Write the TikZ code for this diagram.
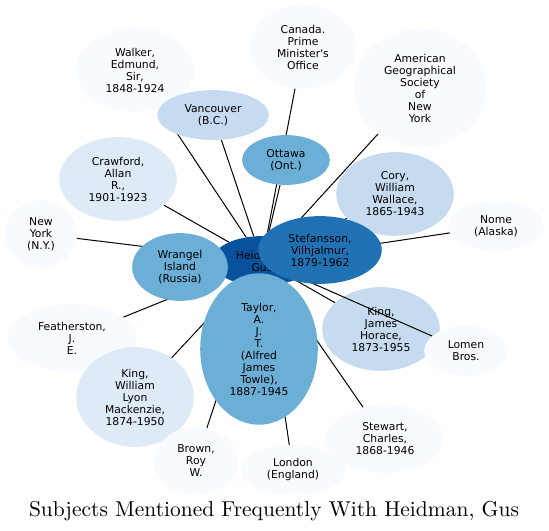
\documentclass[tikz,border=0pt]{standalone}
\usepackage{fontspec}
\newfontfamily\labelfont{DejaVu Sans}[Ligatures=TeXOff]
\newfontfamily\titlefont{lmroman10-regular.otf}
\usetikzlibrary{shapes.geometric}
\definecolor{blueA}{HTML}{F7FBFF}
\definecolor{blueB}{HTML}{DEEBF7}
\definecolor{blueC}{HTML}{C6DBEF}
\definecolor{blueE}{HTML}{6BAED6}
\definecolor{blueG}{HTML}{2171B5}
\definecolor{blueH}{HTML}{08519C}
\pgfdeclarelayer{background}
\pgfsetlayers{background,main}
\begin{document}
\begin{tikzpicture}[x=1bp, y=-1bp, font=\labelfont\fontsize{10.8bp}{12bp}\selectfont]
    \tikzstyle{subject}=[ellipse, inner sep=0pt, align=center]
    \tikzstyle{paleblob}=[subject, fill=blueA]
    \tikzstyle{lightblob}=[subject, fill=blueB]
    \tikzstyle{softblob}=[subject, fill=blueC]
    \tikzstyle{midblob}=[subject, fill=blueE]
    \tikzstyle{deepblob}=[subject, fill=blueG]
    \tikzstyle{coreblob}=[subject, fill=blueH]
    \tikzstyle{link}=[draw=black, line width=1bp]

    \useasboundingbox (0,0) rectangle (549,531);

    \node[coreblob, minimum width=100, minimum height=50] (heidman) at (262,261) {Heidman,\\Gus};

    \node[paleblob, minimum width=118, minimum height=84] (walker) at (135,70) {Walker,\\Edmund,\\Sir,\\1848-1924};
    \node[softblob, minimum width=112, minimum height=50] (vancouver) at (213,115) {Vancouver\\(B.C.)};
    \node[lightblob, minimum width=118, minimum height=84] (crawford) at (118,179) {Crawford,\\Allan\\R.,\\1901-1923};
    \node[paleblob, minimum width=106, minimum height=84] (pmoffice) at (303,47) {Canada.\\Prime\\Minister's\\Office};
    \node[paleblob, minimum width=134, minimum height=118] (amgeo) at (420,88) {American\\Geographical\\Society\\of\\New\\York};
    \node[midblob, minimum width=88, minimum height=50] (ottawa) at (286,160) {Ottawa\\(Ont.)};
    \node[softblob, minimum width=118, minimum height=84] (cory) at (395,194) {Cory,\\William\\Wallace,\\1865-1943};
    \node[paleblob, minimum width=96, minimum height=50] (nome) at (496,226) {Nome\\(Alaska)};
    \node[paleblob, minimum width=72, minimum height=68] (newyork) at (41,234) {New\\York\\(N.Y.)};
    \node[paleblob, minimum width=130, minimum height=68] (featherston) at (72,338) {Featherston,\\J.\\E.};
    \node[lightblob, minimum width=118, minimum height=100] (kingwlm) at (135,397) {King,\\William\\Lyon\\Mackenzie,\\1874-1950};
    \node[paleblob, minimum width=84, minimum height=68] (brown) at (196,461) {Brown,\\Roy\\W.};
    \node[paleblob, minimum width=106, minimum height=50] (london) at (293,470) {London\\(England)};
    \node[paleblob, minimum width=118, minimum height=68] (stewart) at (385,439) {Stewart,\\Charles,\\1868-1946};
    \node[paleblob, minimum width=84, minimum height=50] (lomen) at (466,351) {Lomen\\Bros.};

    \node[midblob, minimum width=96, minimum height=68] (wrangel) at (180,267) {Wrangel\\Island\\(Russia)};
    \node[deepblob, minimum width=124, minimum height=68] (stefansson) at (320,250) {Stefansson,\\Vilhjalmur,\\1879-1962};
    \node[midblob, minimum width=118, minimum height=152] (taylor) at (259,349) {Taylor,\\A.\\J.\\T.\\(Alfred\\James\\Towle),\\1887-1945};

    \begin{pgfonlayer}{background}
    \node[softblob, minimum width=118, minimum height=84] (kingjh) at (381,329) {King,\\James\\Horace,\\1873-1955};
    \foreach \other in {walker, vancouver, crawford, pmoffice, amgeo, ottawa, cory, nome,
        newyork, featherston, kingwlm, brown, london, stewart, lomen,
        wrangel, stefansson, taylor, kingjh}
        \draw[link] (heidman) -- (\other);
    \end{pgfonlayer}

    \node[font=\titlefont\fontsize{21.5bp}{24bp}\selectfont, anchor=base] (caption) at (274,516) {Subjects Mentioned Frequently With Heidman, Gus};
\end{tikzpicture}
\end{document}
